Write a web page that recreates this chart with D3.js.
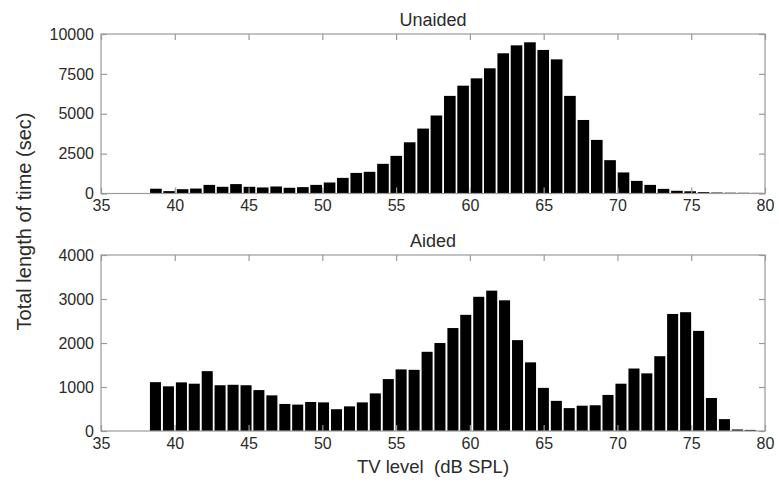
<!DOCTYPE html>
<html>
<head>
<meta charset="utf-8">
<script src="https://cdn.jsdelivr.net/npm/d3@7"></script>
<style>
  body { margin: 0; background: #fff; }
  svg { font-family: "Liberation Sans", Arial, sans-serif; }
</style>
</head>
<body>
<div id="chart"></div>
<script>
// bin centres (dB SPL) and total time per bin (sec)
var unaidedLevels = [38.72, 39.62, 40.53, 41.43, 42.34, 43.24, 44.15, 45.06, 45.96, 46.87,
  47.77, 48.68, 49.58, 50.49, 51.39, 52.30, 53.20, 54.11, 55.01, 55.92,
  56.83, 57.73, 58.64, 59.54, 60.45, 61.35, 62.26, 63.16, 64.07, 64.97,
  65.88, 66.78, 67.69, 68.60, 69.50, 70.41, 71.31, 72.22, 73.12, 74.03,
  74.93, 75.84, 76.74, 77.65, 78.55, 79.46];
var unaidedTime = [300, 150, 270, 310, 540, 420, 590, 420, 380, 440,
  360, 400, 540, 690, 980, 1290, 1360, 1860, 2360, 3210,
  4070, 4890, 6120, 6760, 7220, 7850, 8790, 9290, 9480, 9000,
  8410, 6120, 4610, 3360, 2090, 1320, 790, 540, 290, 170,
  140, 85, 60, 50, 45, 40];

var aidedLevels = [38.69, 39.57, 40.45, 41.32, 42.20, 43.07, 43.95, 44.83, 45.70, 46.58,
  47.46, 48.33, 49.21, 50.08, 50.96, 51.84, 52.71, 53.59, 54.47, 55.34,
  56.22, 57.10, 57.97, 58.85, 59.72, 60.60, 61.48, 62.35, 63.23, 64.11,
  64.98, 65.86, 66.73, 67.61, 68.49, 69.36, 70.24, 71.12, 71.99, 72.87,
  73.74, 74.62, 75.50, 76.37, 77.25, 78.13, 79.00];
var aidedTime = [1110, 1015, 1105, 1075, 1360, 1040, 1050, 1040, 930, 810,
  615, 600, 660, 650, 495, 560, 650, 855, 1180, 1400,
  1390, 1800, 2000, 2340, 2640, 3050, 3190, 2970, 2065, 1560,
  980, 685, 520, 575, 585, 820, 1075, 1420, 1310, 1700,
  2660, 2700, 2275, 750, 270, 35, 25];

var xTicks = [35, 40, 45, 50, 55, 60, 65, 70, 75, 80];
var unaidedTicks = [0, 2500, 5000, 7500, 10000];
var aidedTicks = [0, 1000, 2000, 3000, 4000];

var width = 779;
var height = 483;
var left = 101, right = 765;
var tickLen = 6;
var frameColor = "#9a9a9a";
var textColor = "#2b2b2b";

var svg = d3.select("#chart")
  .append("svg")
  .attr("width", width)
  .attr("height", height);

var x = d3.scaleLinear().domain([35, 80]).range([left, right]);

// draws one histogram panel
function panel(levels, values, yMax, yTicks, top, bottom, title, fill) {
  var y = d3.scaleLinear().domain([0, yMax]).range([bottom, top]);
  var step = levels[1] - levels[0];
  var barW = x(levels[0] + step * fill) - x(levels[0]);

  var g = svg.append("g");

  g.selectAll("rect.bar")
    .data(values)
    .enter()
    .append("rect")
    .attr("class", "bar")
    .attr("x", (d, i) => x(levels[i]) - barW / 2)
    .attr("y", d => y(d))
    .attr("width", barW)
    .attr("height", d => bottom - y(d))
    .style("fill", "#000");

  // bottom axis with labels, ticks pointing inward
  var xb = g.append("g")
    .attr("transform", `translate(0,${bottom})`)
    .call(d3.axisBottom(x).tickValues(xTicks).tickSizeInner(-tickLen).tickSizeOuter(0)
      .tickPadding(6.5).tickFormat(d3.format("d")));
  // mirrored ticks on top
  var xt = g.append("g")
    .attr("transform", `translate(0,${top})`)
    .call(d3.axisTop(x).tickValues(xTicks).tickSizeInner(-tickLen).tickSizeOuter(0).tickFormat(""));
  var yl = g.append("g")
    .attr("transform", `translate(${left},0)`)
    .call(d3.axisLeft(y).tickValues(yTicks).tickSizeInner(-tickLen).tickSizeOuter(0)
      .tickPadding(7).tickFormat(d3.format("d")));
  var yr = g.append("g")
    .attr("transform", `translate(${right},0)`)
    .call(d3.axisRight(y).tickValues(yTicks).tickSizeInner(-tickLen).tickSizeOuter(0).tickFormat(""));

  [xb, xt, yl, yr].forEach(a => {
    a.select(".domain").remove();
    a.selectAll(".tick line").attr("stroke", frameColor).attr("stroke-width", 1.2);
    a.selectAll(".tick text")
      .attr("fill", textColor)
      .style("font-size", "16px")
      .style("font-family", "'Liberation Sans', Arial, sans-serif");
  });

  g.append("rect")
    .attr("x", left)
    .attr("y", top)
    .attr("width", right - left)
    .attr("height", bottom - top)
    .attr("fill", "none")
    .attr("stroke", frameColor)
    .attr("stroke-width", 1.2);

  g.append("text")
    .attr("x", (left + right) / 2)
    .attr("y", top - 8.5)
    .attr("text-anchor", "middle")
    .attr("fill", textColor)
    .style("font-size", "18px")
    .text(title);
}

panel(unaidedLevels, unaidedTime, 10000, unaidedTicks, 34, 193.5, "Unaided", 0.875);
panel(aidedLevels, aidedTime, 4000, aidedTicks, 255, 431, "Aided", 0.85);

// axis titles
svg.append("text")
  .attr("x", (left + right) / 2)
  .attr("y", 473)
  .attr("text-anchor", "middle")
  .attr("fill", textColor)
  .style("font-size", "18.5px")
  .style("white-space", "pre")
  .text("TV level  (dB SPL)");

svg.append("text")
  .attr("transform", "translate(31,221.5)rotate(-90)")
  .attr("text-anchor", "middle")
  .attr("fill", textColor)
  .style("font-size", "20px")
  .text("Total length of time (sec)");
</script>
</body>
</html>
